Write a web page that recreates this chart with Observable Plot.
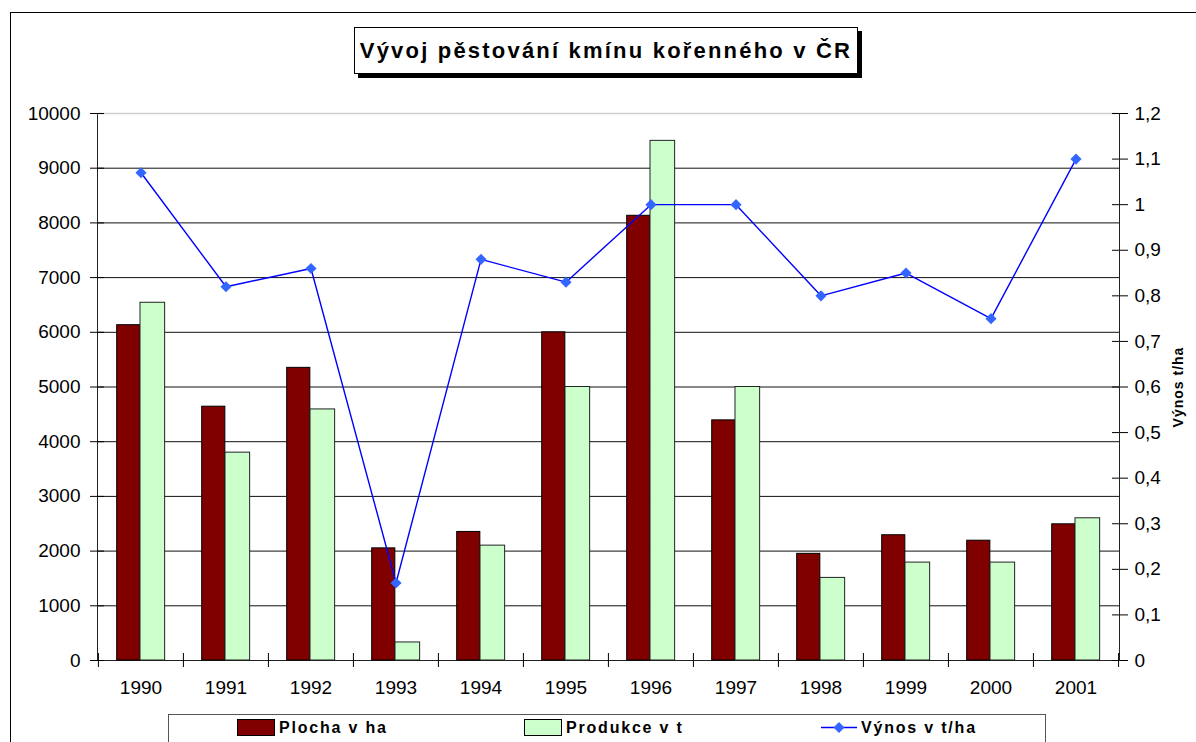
<!DOCTYPE html>
<html>
<head>
<meta charset="utf-8">
<script src="https://cdn.jsdelivr.net/npm/d3@7"></script>
<script src="https://cdn.jsdelivr.net/npm/@observablehq/plot@0.6"></script>
<style>
  body { margin: 0; background: #fff; font-family: "Liberation Sans", Arial, sans-serif; }
  #wrap { position: relative; width: 1196px; height: 742px; overflow: hidden; background: #fff; }
  #frame { position: absolute; left: 10px; top: 12px; width: 1400px; height: 900px;
           border-left: 1.5px solid #000; border-top: 1.5px solid #000; }
  #chart { position: absolute; left: 0; top: 0; }
  #title { position: absolute; left: 354px; top: 27px; width: 504px; height: 47px;
           border: 1px solid #000; box-shadow: 4px 4px 0 #000; background: #fff; box-sizing: border-box;
           display: flex; align-items: center; justify-content: center;
           font-weight: bold; font-size: 22px; letter-spacing: 2.2px; color: #000; }
  #legend { position: absolute; left: 168px; top: 714px; width: 878px; height: 60px;
            border: 1px solid #555; box-sizing: border-box; background: #fff; }
  .lg { position: absolute; top: 719px; height: 17px; display: flex; align-items: center;
        font-weight: bold; font-size: 16px; letter-spacing: 1.8px; color: #000; }
  .sw { width: 36px; height: 15px; border: 1px solid #000; margin-right: 4px; box-sizing: content-box; }
</style>
</head>
<body>
<div id="wrap">
  <div id="frame"></div>
  <div id="chart"></div>
  <div id="title">Vývoj pěstování kmínu kořenného v ČR</div>
  <div id="legend"></div>
  <div class="lg" style="left:237px"><div class="sw" style="background:#800000"></div><span id="l1"></span></div>
  <div class="lg" style="left:524px"><div class="sw" style="background:#ccffcc"></div><span id="l2"></span></div>
  <div class="lg" style="left:821px"><svg width="38" height="17" style="margin-right:2px"><line x1="0" x2="36" y1="8.5" y2="8.5" stroke="#0000ff" stroke-width="1.5"/><path d="M18,3 L23.5,8.5 L18,14 L12.5,8.5 Z" fill="#3366ff"/></svg><span id="l3"></span></div>
</div>
<script>
// ---- data ----
const years = ["1990","1991","1992","1993","1994","1995","1996","1997","1998","1999","2000","2001"];
const plocha   = [6130, 4640, 5350, 2050, 2350, 6000, 8130, 4390, 1950, 2290, 2190, 2490];
const produkce = [6540, 3800, 4590,  330, 2100, 5000, 9500, 5000, 1510, 1790, 1790, 2600];
const vynos    = [1.07, 0.82, 0.86, 0.17, 0.88, 0.83, 1.00, 1.00, 0.80, 0.85, 0.75, 1.10];
const leftTicks  = [0,1000,2000,3000,4000,5000,6000,7000,8000,9000,10000];
const rightTicks = [0,0.1,0.2,0.3,0.4,0.5,0.6,0.7,0.8,0.9,1,1.1,1.2];
const seriesNames = ["Plocha v ha", "Produkce v t", "Výnos v t/ha"];
const titleText = "Vývoj pěstování kmínu kořenného v ČR";
const rightLabel = "Výnos t/ha";

document.getElementById("l1").textContent = seriesNames[0];
document.getElementById("l2").textContent = seriesNames[1];
document.getElementById("l3").textContent = seriesNames[2];

// secondary axis maps 0..1.2 onto 0..10000
const k = 10000 / 1.2;
const table = years.map((y, i) => ({year: y, plocha: plocha[i], produkce: produkce[i], vynos: vynos[i] * k}));

const W = 1196, H = 742, mL = 97, mR = 77, mT = 113, mB = 82;
const fw = W - mL - mR, fh = H - mT - mB;
const bw = fw / years.length;
const fmtR = d => String(Math.round(d / k * 10) / 10).replace(".", ",");

const chart = Plot.plot({
  width: W, height: H,
  marginLeft: mL, marginRight: mR, marginTop: mT, marginBottom: mB,
  style: {fontFamily: "Liberation Sans, Arial, sans-serif", fontSize: "19px", background: "transparent", color: "#000", overflow: "visible"},
  x: {type: "band", domain: years, padding: 0},
  y: {domain: [0, 10000]},
  marks: [
    Plot.ruleY(leftTicks.slice(1, -1), {stroke: "#111", strokeWidth: 1}),
    Plot.frame({stroke: "#222"}),
    Plot.ruleY([10000], {stroke: "#cfcfcf", strokeWidth: 1.5}),
    Plot.barY(table, {x: "year", y: "plocha", fill: "#800000", stroke: "#000", strokeWidth: 1, insetLeft: 18.7, insetRight: bw - 42}),
    Plot.barY(table, {x: "year", y: "produkce", fill: "#ccffcc", stroke: "#222", strokeWidth: 1, insetLeft: 42, insetRight: bw - 66.8}),
    Plot.line(table, {x: "year", y: "vynos", stroke: "#0000ff", strokeWidth: 1.4}),
    Plot.dot(table, {x: "year", y: "vynos", symbol: "diamond2", r: 5, fill: "#3366ff", stroke: "none"}),
    // left axis
    Plot.axisY({ticks: leftTicks, tickSize: 7, tickPadding: 10, tickFormat: d => String(d), label: null, stroke: "#000"}),
    Plot.tickY(leftTicks, {y: d => d, insetRight: fw - 7, stroke: "#000"}),
    // right axis
    Plot.axisY({anchor: "right", ticks: rightTicks.map(v => v * k), tickSize: 8, tickPadding: 7, tickFormat: fmtR, label: null, stroke: "#000"}),
    Plot.tickY(rightTicks.map(v => v * k), {y: d => d, insetLeft: fw - 7, stroke: "#000"}),
    // x axis
    Plot.axisX({tickSize: 0, tickPadding: 20, label: null}),
    Plot.ruleX(years, {x: d => d, dx: -bw / 2, insetTop: fh - 7, insetBottom: -7, stroke: "#000"}),
    Plot.ruleX([years[years.length - 1]], {x: d => d, dx: bw / 2, insetTop: fh - 7, insetBottom: -7, stroke: "#000"}),
    // right axis label
    Plot.text([rightLabel], {text: d => d, frameAnchor: "right", textAnchor: "middle", lineAnchor: "middle", dx: 59, rotate: -90, fontWeight: "bold", fontSize: 14})
  ]
});
document.getElementById("chart").appendChild(chart);
chart.querySelectorAll("text").forEach(t => { if (t.textContent === rightLabel) t.setAttribute("letter-spacing", "1px"); });
</script>
</body>
</html>
